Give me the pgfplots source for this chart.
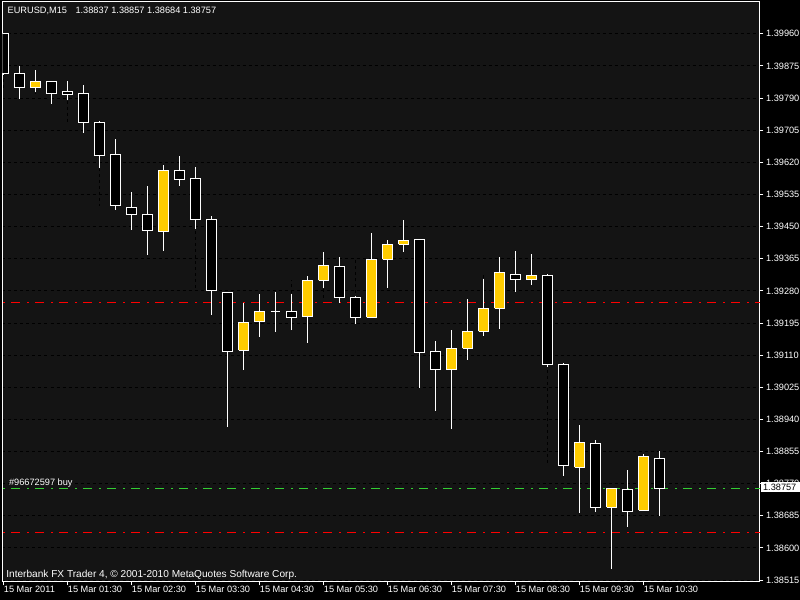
\documentclass[border=0pt]{standalone}
\usepackage{fontspec}
\setmainfont{Liberation Sans}
\usepackage{pgfplots}
\pgfplotsset{compat=1.18}
\definecolor{bull}{RGB}{255,204,0}
\definecolor{chartbg}{RGB}{20,20,20}
\definecolor{lgreen}{RGB}{50,205,50}
\begin{document}
\begin{tikzpicture}[font=\fontsize{4.6pt}{5.5pt}\selectfont]
\fill[black] (-1.25pt,-9pt) rectangle (398.75pt,291pt);
\begin{axis}[
  at={(0,0)}, anchor=south west,
  scale only axis, width=378.75pt, height=290pt,
  xmin=-0.0625, xmax=47.28, ymin=1.38510, ymax=1.40044,
  axis background/.style={fill=chartbg},
  axis line style={white, line width=0.5pt},
  unbounded coords=jump,
  ytick={1.38515,1.38600,1.38685,1.38770,1.38855,1.38940,1.39025,1.39110,1.39195,1.39280,1.39365,1.39450,1.39535,1.39620,1.39705,1.39790,1.39875,1.39960},
  yticklabels={1.38515,1.38600,1.38685,1.38770,1.38855,1.38940,1.39025,1.39110,1.39195,1.39280,1.39365,1.39450,1.39535,1.39620,1.39705,1.39790,1.39875,1.39960},
  ytick pos=right, yticklabel pos=right,
  xtick={0,4,8,12,16,20,24,28,32,36,40},
  xticklabels={15 Mar 2011,15 Mar 01:30,15 Mar 02:30,15 Mar 03:30,15 Mar 04:30,15 Mar 05:30,15 Mar 06:30,15 Mar 07:30,15 Mar 08:30,15 Mar 09:30,15 Mar 10:30},
  xtick pos=bottom,
  tick align=outside, major tick length=1.65pt,
  tick style={white, line width=0.5pt},
  ticklabel style={text=white, font=\fontsize{4.6pt}{5.5pt}\selectfont},
  yticklabel style={anchor=west, inner sep=0pt, xshift=1.2pt},
  xticklabel style={anchor=north west, inner sep=0pt},
  ymajorgrids,
  grid style={black, line width=0.5pt, dash pattern=on 1.5pt off 1.5pt},
]
% order lines
\addplot[red, line width=0.5pt, dash pattern=on 4.35pt off 3.35pt on 1.15pt off 3.15pt] coordinates {(-1,1.39250) (48,1.39250)};
\addplot[red, line width=0.5pt, dash pattern=on 4.35pt off 3.35pt on 1.15pt off 3.15pt] coordinates {(-1,1.38641) (48,1.38641)};
\addplot[lgreen, line width=0.5pt, dash pattern=on 4.35pt off 3.35pt on 1.15pt off 3.15pt] coordinates {(-1,1.38757) (48,1.38757)};
% dashed close-to-close segments
\addplot[black, line width=0.5pt, dash pattern=on 1.5pt off 1.5pt] coordinates {
(0,1.39855)(0,1.39817)(nan,nan)
(2,1.39835)(2,1.39801)(nan,nan)
(4,1.39799)(4,1.39726)(nan,nan)
(6,1.39638)(6,1.39505)(nan,nan)
(8,1.39482)(8,1.39439)(nan,nan)
(10,1.39599)(10,1.39575)(nan,nan)
(12,1.39469)(12,1.39281)(nan,nan)
(14,1.39119)(14,1.39197)(nan,nan)
(18,1.39210)(18,1.39308)(nan,nan)
(20,1.39348)(20,1.39262)(nan,nan)
(22,1.39210)(22,1.39363)(nan,nan)
(24,1.39403)(24,1.39414)(nan,nan)
(26,1.39116)(26,1.39072)(nan,nan)
(28,1.39128)(28,1.39173)(nan,nan)
(30,1.39234)(30,1.39329)(nan,nan)
(32,1.39310)(32,1.39321)(nan,nan)
(34,1.39086)(34,1.38817)(nan,nan)
(36,1.38878)(36,1.38708)(nan,nan)
(38,1.38757)(38,1.38697)(nan,nan)
(40,1.38842)(40,1.38757)
};
% wicks (low to high)
\addplot[white, line width=0.5pt] coordinates {
(0,1.39851)(0,1.39961)(nan,nan)
(1,1.39788)(1,1.39875)(nan,nan)
(2,1.39807)(2,1.39864)(nan,nan)
(3,1.39775)(3,1.39835)(nan,nan)
(4,1.39785)(4,1.39835)(nan,nan)
(5,1.39698)(5,1.39824)(nan,nan)
(6,1.39604)(6,1.39729)(nan,nan)
(7,1.39494)(7,1.39682)(nan,nan)
(8,1.39441)(8,1.39541)(nan,nan)
(9,1.39375)(9,1.39557)(nan,nan)
(10,1.39386)(10,1.39613)(nan,nan)
(11,1.39558)(11,1.39637)(nan,nan)
(12,1.39444)(12,1.39607)(nan,nan)
(13,1.39217)(13,1.39478)(nan,nan)
(14,1.38921)(14,1.39276)(nan,nan)
(15,1.39071)(15,1.39249)(nan,nan)
(16,1.39159)(16,1.39272)(nan,nan)
(17,1.39172)(17,1.39277)(nan,nan)
(18,1.39176)(18,1.39272)(nan,nan)
(19,1.39143)(19,1.39319)(nan,nan)
(20,1.39288)(20,1.39383)(nan,nan)
(21,1.39249)(21,1.39369)(nan,nan)
(22,1.39193)(22,1.39266)(nan,nan)
(23,1.39210)(23,1.39433)(nan,nan)
(24,1.39288)(24,1.39414)(nan,nan)
(25,1.39383)(25,1.39467)(nan,nan)
(26,1.39024)(26,1.39416)(nan,nan)
(27,1.38963)(27,1.39147)(nan,nan)
(28,1.38915)(28,1.39176)(nan,nan)
(29,1.39098)(29,1.39258)(nan,nan)
(30,1.39161)(30,1.39311)(nan,nan)
(31,1.39180)(31,1.39369)(nan,nan)
(32,1.39278)(32,1.39385)(nan,nan)
(33,1.39296)(33,1.39377)(nan,nan)
(34,1.39079)(34,1.39324)(nan,nan)
(35,1.38791)(35,1.39090)(nan,nan)
(36,1.38693)(36,1.38926)(nan,nan)
(37,1.38696)(37,1.38886)(nan,nan)
(38,1.38545)(38,1.38757)(nan,nan)
(39,1.38656)(39,1.38806)(nan,nan)
(40,1.38700)(40,1.38848)(nan,nan)
(41,1.38684)(41,1.38857)
};
% bull bodies (open to close)
\addplot[draw=white, fill=bull, line width=0.5pt] coordinates {
(1.7,1.39817)(2.3,1.39817)(2.3,1.39835)(1.7,1.39835)(1.7,1.39817)(nan,nan)
(9.7,1.39436)(10.3,1.39436)(10.3,1.39599)(9.7,1.39599)(9.7,1.39436)(nan,nan)
(14.7,1.39123)(15.3,1.39123)(15.3,1.39197)(14.7,1.39197)(14.7,1.39123)(nan,nan)
(15.7,1.39198)(16.3,1.39198)(16.3,1.39226)(15.7,1.39226)(15.7,1.39198)(nan,nan)
(18.7,1.39212)(19.3,1.39212)(19.3,1.39308)(18.7,1.39308)(18.7,1.39212)(nan,nan)
(19.7,1.39308)(20.3,1.39308)(20.3,1.39348)(19.7,1.39348)(19.7,1.39308)(nan,nan)
(22.7,1.39210)(23.3,1.39210)(23.3,1.39363)(22.7,1.39363)(22.7,1.39210)(nan,nan)
(23.7,1.39363)(24.3,1.39363)(24.3,1.39403)(23.7,1.39403)(23.7,1.39363)(nan,nan)
(24.7,1.39403)(25.3,1.39403)(25.3,1.39414)(24.7,1.39414)(24.7,1.39403)(nan,nan)
(27.7,1.39072)(28.3,1.39072)(28.3,1.39128)(27.7,1.39128)(27.7,1.39072)(nan,nan)
(28.7,1.39128)(29.3,1.39128)(29.3,1.39173)(28.7,1.39173)(28.7,1.39128)(nan,nan)
(29.7,1.39173)(30.3,1.39173)(30.3,1.39234)(29.7,1.39234)(29.7,1.39173)(nan,nan)
(30.7,1.39234)(31.3,1.39234)(31.3,1.39329)(30.7,1.39329)(30.7,1.39234)(nan,nan)
(32.7,1.39310)(33.3,1.39310)(33.3,1.39321)(32.7,1.39321)(32.7,1.39310)(nan,nan)
(35.7,1.38813)(36.3,1.38813)(36.3,1.38878)(35.7,1.38878)(35.7,1.38813)(nan,nan)
(37.7,1.38708)(38.3,1.38708)(38.3,1.38757)(37.7,1.38757)(37.7,1.38708)(nan,nan)
(39.7,1.38700)(40.3,1.38700)(40.3,1.38842)(39.7,1.38842)(39.7,1.38700)
};
% bear bodies (open to close)
\addplot[draw=white, fill=black, line width=0.5pt] coordinates {
(-0.3,1.39961)(0.3,1.39961)(0.3,1.39855)(-0.3,1.39855)(-0.3,1.39961)(nan,nan)
(0.7,1.39855)(1.3,1.39855)(1.3,1.39817)(0.7,1.39817)(0.7,1.39855)(nan,nan)
(2.7,1.39835)(3.3,1.39835)(3.3,1.39801)(2.7,1.39801)(2.7,1.39835)(nan,nan)
(3.7,1.39808)(4.3,1.39808)(4.3,1.39799)(3.7,1.39799)(3.7,1.39808)(nan,nan)
(4.7,1.39802)(5.3,1.39802)(5.3,1.39726)(4.7,1.39726)(4.7,1.39802)(nan,nan)
(5.7,1.39726)(6.3,1.39726)(6.3,1.39638)(5.7,1.39638)(5.7,1.39726)(nan,nan)
(6.7,1.39641)(7.3,1.39641)(7.3,1.39505)(6.7,1.39505)(6.7,1.39641)(nan,nan)
(7.7,1.39501)(8.3,1.39501)(8.3,1.39482)(7.7,1.39482)(7.7,1.39501)(nan,nan)
(8.7,1.39482)(9.3,1.39482)(9.3,1.39439)(8.7,1.39439)(8.7,1.39482)(nan,nan)
(10.7,1.39599)(11.3,1.39599)(11.3,1.39575)(10.7,1.39575)(10.7,1.39599)(nan,nan)
(11.7,1.39578)(12.3,1.39578)(12.3,1.39469)(11.7,1.39469)(11.7,1.39578)(nan,nan)
(12.7,1.39469)(13.3,1.39469)(13.3,1.39281)(12.7,1.39281)(12.7,1.39469)(nan,nan)
(13.7,1.39276)(14.3,1.39276)(14.3,1.39119)(13.7,1.39119)(13.7,1.39276)(nan,nan)
(16.7,1.39226)(17.3,1.39226)(nan,nan)
(17.7,1.39226)(18.3,1.39226)(18.3,1.39210)(17.7,1.39210)(17.7,1.39226)(nan,nan)
(20.7,1.39345)(21.3,1.39345)(21.3,1.39262)(20.7,1.39262)(20.7,1.39345)(nan,nan)
(21.7,1.39263)(22.3,1.39263)(22.3,1.39210)(21.7,1.39210)(21.7,1.39263)(nan,nan)
(25.7,1.39416)(26.3,1.39416)(26.3,1.39116)(25.7,1.39116)(25.7,1.39416)(nan,nan)
(26.7,1.39120)(27.3,1.39120)(27.3,1.39072)(26.7,1.39072)(26.7,1.39120)(nan,nan)
(31.7,1.39324)(32.3,1.39324)(32.3,1.39310)(31.7,1.39310)(31.7,1.39324)(nan,nan)
(33.7,1.39321)(34.3,1.39321)(34.3,1.39086)(33.7,1.39086)(33.7,1.39321)(nan,nan)
(34.7,1.39086)(35.3,1.39086)(35.3,1.38817)(34.7,1.38817)(34.7,1.39086)(nan,nan)
(36.7,1.38877)(37.3,1.38877)(37.3,1.38708)(36.7,1.38708)(36.7,1.38877)(nan,nan)
(38.7,1.38755)(39.3,1.38755)(39.3,1.38697)(38.7,1.38697)(38.7,1.38755)(nan,nan)
(40.7,1.38837)(41.3,1.38837)(41.3,1.38757)(40.7,1.38757)(40.7,1.38837)
};
\end{axis}
\node[anchor=base west, inner sep=0pt, text=white] at (2.4pt,284pt) {EURUSD,M15\hspace{3pt} 1.38837 1.38857 1.38684 1.38757};
\node[anchor=base west, inner sep=0pt, text=white] at (3.1pt,48.15pt) {\#96672597 buy};
\node[anchor=base west, inner sep=0pt, text=white, font=\fontsize{5.05pt}{6pt}\selectfont] at (1.75pt,2.15pt) {Interbank FX Trader 4, \textcopyright{} 2001-2010 MetaQuotes Software Corp.};
\fill[white] (379.4pt,45pt) rectangle (398.75pt,49.85pt);
\node[anchor=base west, inner sep=0pt, text=black] at (380.1pt,45.65pt) {1.38757};
\pgfresetboundingbox
\path (-1.25pt,-9pt) rectangle (398.75pt,291pt);
\end{tikzpicture}
\end{document}
